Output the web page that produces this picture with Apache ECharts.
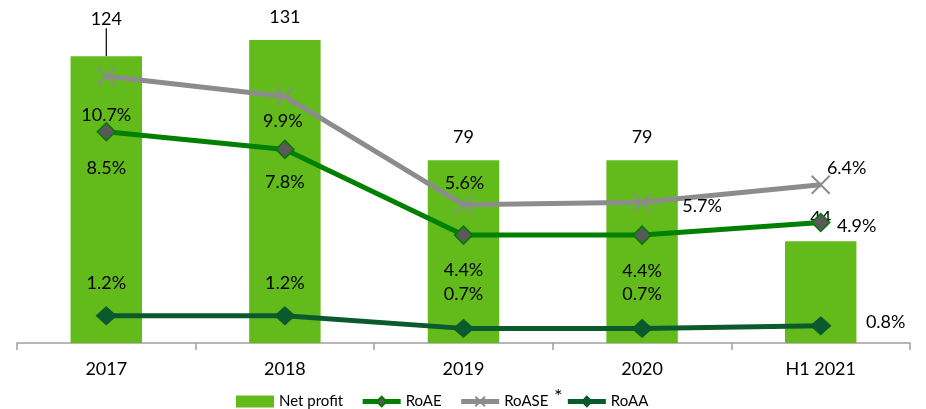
<!DOCTYPE html>
<html>
<head>
<meta charset="utf-8">
<script src="https://cdn.jsdelivr.net/npm/echarts@6/dist/echarts.min.js"></script>
<style>
html,body{margin:0;padding:0;background:#fff;}
#chart{width:926px;height:409px;}
</style>
</head>
<body>
<div id="chart"></div>
<script>
const categories = ['2017', '2018', '2019', '2020', 'H1 2021'];
const netProfit = [124, 131, 79, 79, 44];
const roae = [8.5, 7.8, 4.4, 4.4, 4.9];
const roase = [10.7, 9.9, 5.6, 5.7, 6.4];
const roaa = [1.2, 1.2, 0.7, 0.7, 0.8];

// label offsets (style only)
const roaseLabelOffset = [[0, 39], [-2, 25], [1, -22], [60, 4], [26, -17]];
const roaeLabelOffset = [[0, 36], [0, 33], [0, 35], [0, 36], [36, 4]];
const roaaLabelOffset = [[0, -33], [0, -33], [0, -34], [0, -34], [65, -4]];

const FONT = 'Lato';
const pct = v => v.toFixed(1) + '%';

function lineData(values, offsets) {
  return values.map((v, i) => ({
    value: v,
    label: { show: true, position: 'inside', offset: offsets[i], formatter: pct(v) }
  }));
}

const barData = netProfit.map((v, i) => i === 0
  ? { value: v, labelLine: { show: true, lineStyle: { color: '#000', width: 1.2 } } }
  : { value: v });

const chart = echarts.init(document.getElementById('chart'));
chart.setOption({
  animation: false,
  textStyle: { fontFamily: FONT },
  grid: { left: 17, right: 16, top: 10, bottom: 66, containLabel: false },
  legend: {
    left: 231, top: 389,
    itemWidth: 38, itemHeight: 12, itemGap: 17,
    textStyle: { fontFamily: FONT, fontSize: 15, color: '#000' },
    lineStyle: { width: 5 },
    data: [
      { name: 'Net profit', icon: 'rect' },
      { name: 'RoAE' },
      { name: 'RoASE' },
      { name: 'RoAA' }
    ]
  },
  graphic: [{
    type: 'text', left: 554, top: 387,
    style: { text: '*', font: '20px Lato', fill: '#000' }
  }],
  xAxis: {
    type: 'category',
    data: categories,
    boundaryGap: true,
    axisLine: { lineStyle: { color: '#a0a0a0', width: 1.5 } },
    axisTick: { show: true, length: 7, lineStyle: { color: '#a0a0a0', width: 1.5 } },
    axisLabel: { color: '#000', fontFamily: FONT, fontSize: 18, margin: 17 }
  },
  yAxis: [
    { type: 'value', min: 0, max: 144, show: false, splitLine: { show: false } },
    { type: 'value', min: 0.12, max: 13.33, show: false, splitLine: { show: false } }
  ],
  series: [
    {
      name: 'Net profit', type: 'bar', yAxisIndex: 0,
      data: barData, barWidth: '40%',
      itemStyle: { color: '#63BB1B' },
      label: { show: true, position: 'top', distance: 14, color: '#000', fontFamily: FONT, fontSize: 18 },
      labelLayout: function (p) { return p.dataIndex === 0 ? { dy: -14 } : {}; },
      labelLine: { show: false },
      z: 1
    },
    {
      name: 'RoASE', type: 'line', yAxisIndex: 1,
      data: lineData(roase, roaseLabelOffset),
      symbol: 'path://M0,0L10,10M10,0L0,10', symbolSize: 18,
      lineStyle: { color: '#8C8C8C', width: 5 },
      itemStyle: { color: '#8C8C8C', borderColor: '#8C8C8C', borderWidth: 2 },
      label: { color: '#000', fontFamily: FONT, fontSize: 18 },
      z: 3
    },
    {
      name: 'RoAE', type: 'line', yAxisIndex: 1,
      data: lineData(roae, roaeLabelOffset),
      symbol: 'diamond', symbolSize: 18,
      lineStyle: { color: '#008000', width: 5 },
      itemStyle: { color: '#595959', borderColor: '#007A00', borderWidth: 1.5 },
      label: { color: '#000', fontFamily: FONT, fontSize: 18 },
      z: 4
    },
    {
      name: 'RoAA', type: 'line', yAxisIndex: 1,
      data: lineData(roaa, roaaLabelOffset),
      symbol: 'diamond', symbolSize: [20, 18],
      lineStyle: { color: '#0B5A2E', width: 5 },
      itemStyle: { color: '#0B5A2E', borderColor: '#0B5A2E', borderWidth: 1 },
      label: { color: '#000', fontFamily: FONT, fontSize: 18 },
      z: 4
    }
  ]
});
</script>
</body>
</html>
